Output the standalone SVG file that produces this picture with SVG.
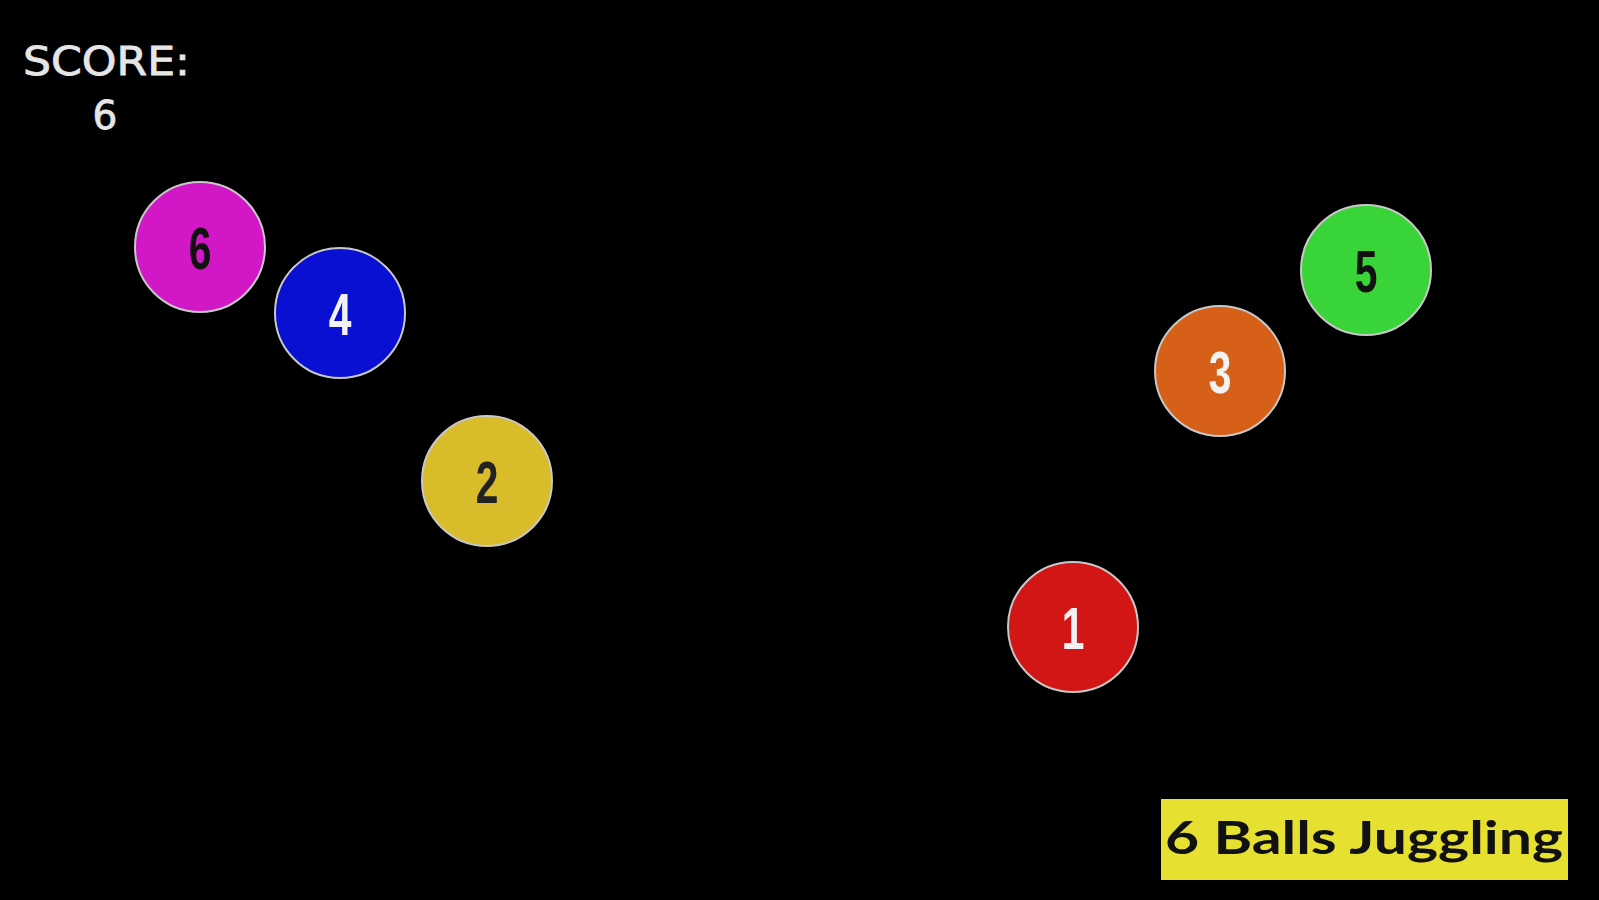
<svg xmlns="http://www.w3.org/2000/svg" width="1599" height="900" viewBox="0 0 1599 900">
<style>
.ball{stroke:#c8c8c8;stroke-width:2}
.num{font-family:"Liberation Sans",sans-serif;font-weight:bold;font-size:60px;text-anchor:middle}
.score{font-family:"DejaVu Sans",sans-serif;fill:#e6e6e6;font-size:39px;stroke:#e6e6e6;stroke-width:0.8}
</style>
<rect width="1599" height="900" fill="#000"/>
<g id="score">
<text class="score" x="23" y="75" textLength="167" lengthAdjust="spacingAndGlyphs">SCORE:</text>
<text class="score" x="105" y="129" text-anchor="middle">6</text>
</g>
<g id="ball6"><circle class="ball" cx="200" cy="247" r="65" fill="#d218c6"/><text class="num" transform="translate(200 269) scale(0.68 1)" fill="#111">6</text></g>
<g id="ball4"><circle class="ball" cx="340" cy="313" r="65" fill="#0a10d2"/><text class="num" transform="translate(340 335) scale(0.68 1)" fill="#f2f2f2">4</text></g>
<g id="ball2"><circle class="ball" cx="487" cy="481" r="65" fill="#d8bc2a"/><text class="num" transform="translate(487 503) scale(0.68 1)" fill="#222">2</text></g>
<g id="ball1"><circle class="ball" cx="1073" cy="627" r="65" fill="#d21616"/><text class="num" transform="translate(1073 649) scale(0.68 1)" fill="#f2f2f2">1</text></g>
<g id="ball3"><circle class="ball" cx="1220" cy="371" r="65" fill="#d66018"/><text class="num" transform="translate(1220 393) scale(0.68 1)" fill="#f2f2f2">3</text></g>
<g id="ball5"><circle class="ball" cx="1366" cy="270" r="65" fill="#38d438"/><text class="num" transform="translate(1366 292) scale(0.68 1)" fill="#111">5</text></g>
<g id="title">
<rect x="1161" y="799" width="407" height="81" fill="#e6e030"/>
<text x="1165" y="854" font-family="Lato,'Noto Sans',sans-serif" font-weight="bold" font-size="46" fill="#111" textLength="398" lengthAdjust="spacingAndGlyphs">6 Balls Juggling</text>
</g>
</svg>
